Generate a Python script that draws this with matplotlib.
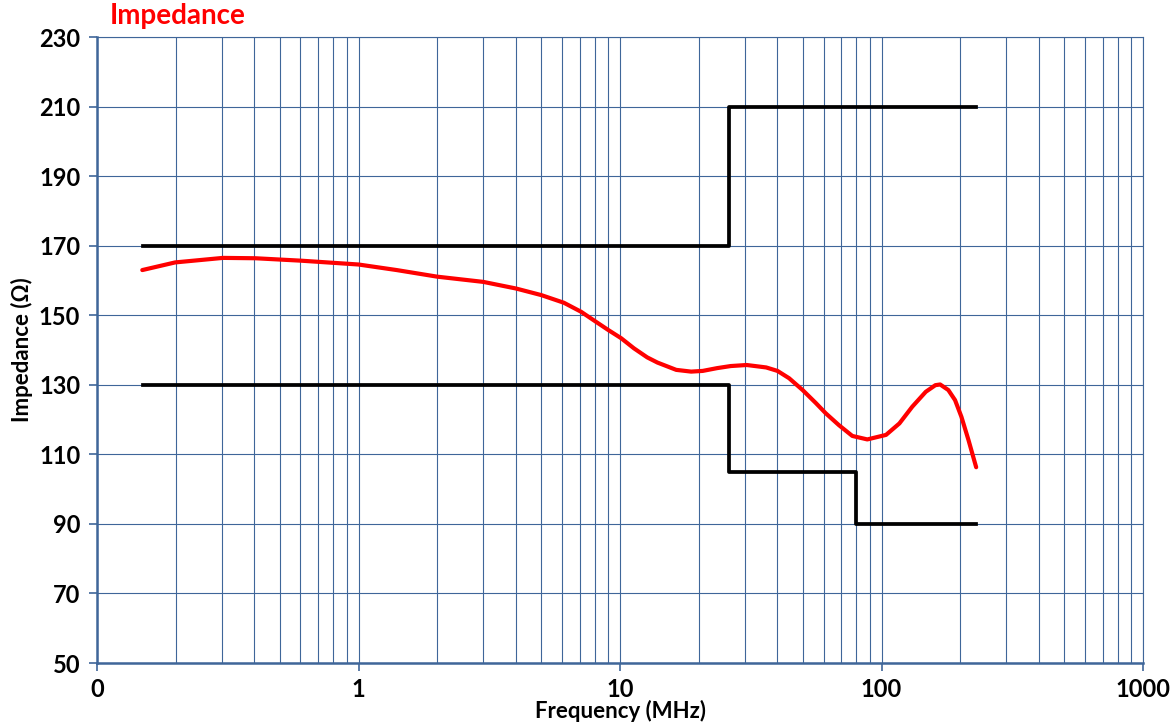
import matplotlib
matplotlib.use("Agg")
import matplotlib.pyplot as plt
from matplotlib.ticker import FixedLocator, NullFormatter

# measured impedance curve (MHz, ohm)
freq = [0.149, 0.199, 0.303, 0.403, 0.603, 1.0, 1.4, 2.0, 3.0, 4.0, 5.0, 6.1, 7.1,
        8.1, 9.0, 10.1, 11.3, 12.7, 13.9, 16.4, 18.7, 20.7, 23.5, 26.5, 30.5, 36.2,
        40.0, 44.3, 49.9, 56.0, 61.2, 68.7, 77.3, 88.2, 104, 117, 131, 147.6, 160.6,
        167.5, 180, 191, 202, 215, 230]
imp = [163.0, 165.2, 166.5, 166.4, 165.7, 164.6, 163.0, 161.1, 159.6, 157.7, 155.8,
       153.6, 151.0, 148.1, 145.8, 143.4, 140.5, 137.9, 136.4, 134.3, 133.8, 134.0,
       134.8, 135.4, 135.7, 135.0, 134.0, 131.9, 128.5, 124.8, 121.8, 118.4, 115.3,
       114.3, 115.6, 118.9, 123.7, 128.0, 129.9, 130.1, 128.5, 125.6, 120.8, 114.1,
       106.3]

# spec limits (step after each point)
upper_f = [0.15, 26, 230]
upper_z = [170, 210, 210]
lower_f = [0.15, 26, 80, 230]
lower_z = [130, 105, 90, 90]

y_ticks = [50, 70, 90, 110, 130, 150, 170, 190, 210, 230]
x_major = [0.1, 1, 10, 100, 1000]
x_labels = ["0", "1", "10", "100", "1000"]

grid_c = "#3F6699"
font = "Lato"

fig = plt.figure(figsize=(11.7, 7.27), dpi=100)
ax = fig.add_axes([0.0829, 0.088, 0.8941, 0.861])
ax.set_xscale("log")
ax.set_xlim(0.1, 1000)
ax.set_ylim(50, 230)

ax.step(upper_f, upper_z, where="post", color="black", lw=2.7, zorder=3)
ax.step(lower_f, lower_z, where="post", color="black", lw=2.7, zorder=3)
ax.plot(freq, imp, color="red", lw=3.0, zorder=4, solid_joinstyle="round",
        solid_capstyle="round")

ax.xaxis.set_major_locator(FixedLocator(x_major))
minors = [m * d for d in [0.1, 1, 10, 100] for m in range(2, 10)]
ax.xaxis.set_minor_locator(FixedLocator(minors))
ax.xaxis.set_minor_formatter(NullFormatter())
ax.set_xticklabels(x_labels, fontsize=17, fontweight="bold", family=font)
ax.set_yticks(y_ticks)
ax.set_yticklabels([str(v) for v in y_ticks], fontsize=17, fontweight="bold", family=font)

ax.grid(True, which="both", axis="x", color=grid_c, lw=0.8)
ax.grid(True, which="major", axis="y", color=grid_c, lw=0.8)
ax.tick_params(axis="both", which="major", length=6, color=grid_c, width=1.2)
ax.tick_params(axis="x", which="major", pad=5)
ax.tick_params(axis="y", which="major", pad=6)
ax.tick_params(axis="x", which="minor", length=0)
for s in ["left", "bottom"]:
    ax.spines[s].set_color(grid_c)
    ax.spines[s].set_linewidth(1.8)
for s in ["top", "right"]:
    ax.spines[s].set_color(grid_c)
    ax.spines[s].set_linewidth(0.8)

ax.set_xlabel("Frequency (MHz)", fontsize=16, fontweight="bold", family=font, labelpad=-1)
ax.set_ylabel("Impedance (Ω)", fontsize=16, fontweight="bold", family=[font, "DejaVu Sans"], labelpad=4)
fig.text(0.094, 0.978, "Impedance", color="red", fontsize=20, fontweight="bold",
         family=font, va="center", ha="left")

fig.savefig("out.png", dpi=100)
